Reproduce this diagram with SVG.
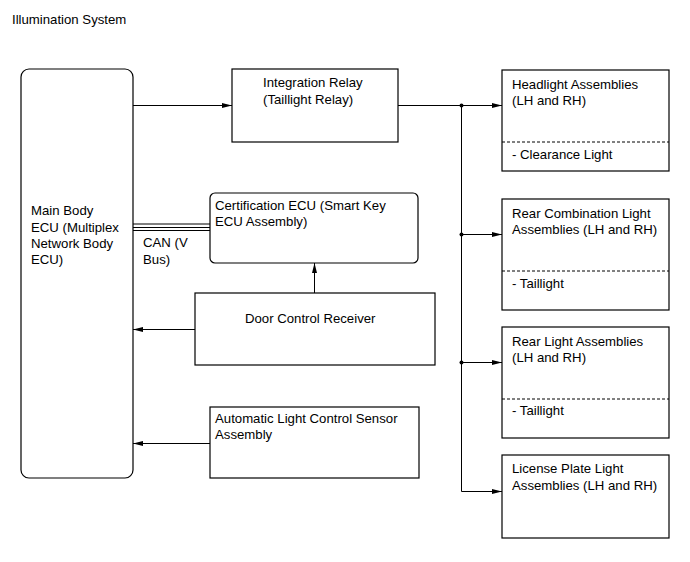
<svg xmlns="http://www.w3.org/2000/svg" width="690" height="562" viewBox="0 0 690 562">
<style>
text{font-family:"Liberation Sans",Arial,sans-serif;font-size:13.2px;fill:#000}
.box{fill:#fff;stroke:#000;stroke-width:1.2}
.dash{stroke:#000;stroke-width:1;stroke-dasharray:3,2}
.ln{stroke:#000;stroke-width:1;fill:none}
</style>
<defs>
<marker id="ah" markerWidth="10" markerHeight="6" refX="10" refY="3" orient="auto" markerUnits="userSpaceOnUse">
<path d="M0,0.5 L10,3 L0,5.5 Z" fill="#000"/>
</marker>
</defs>
<rect width="690" height="562" fill="#fff"/>
<text x="12" y="24">Illumination System</text>

<g id="main-ecu">
<rect class="box" x="21" y="69" width="112" height="409" rx="8"/>
<text x="31" y="215">Main Body</text>
<text x="31" y="232">ECU (Multiplex</text>
<text x="31" y="248">Network Body</text>
<text x="31" y="264">ECU)</text>
</g>

<g id="integration-relay">
<rect class="box" x="232" y="69" width="166" height="73"/>
<text x="263" y="87">Integration Relay</text>
<text x="263" y="104">(Taillight Relay)</text>
</g>

<g id="certification-ecu">
<rect class="box" x="210" y="193" width="208" height="70" rx="5"/>
<text x="215" y="210">Certification ECU (Smart Key</text>
<text x="215" y="226">ECU Assembly)</text>
</g>

<g id="door-control-receiver">
<rect class="box" x="195" y="293" width="240" height="72"/>
<text x="245" y="323">Door Control Receiver</text>
</g>

<g id="auto-light-sensor">
<rect class="box" x="210" y="407" width="209" height="71"/>
<text x="215" y="423">Automatic Light Control Sensor</text>
<text x="215" y="439">Assembly</text>
</g>

<g id="headlight">
<rect class="box" x="502" y="70" width="167" height="101"/>
<line class="dash" x1="502" y1="142" x2="669" y2="142"/>
<text x="512" y="89">Headlight Assemblies</text>
<text x="512" y="105">(LH and RH)</text>
<text x="512" y="159">- Clearance Light</text>
</g>

<g id="rear-combination">
<rect class="box" x="502" y="199" width="167" height="111"/>
<line class="dash" x1="502" y1="271" x2="669" y2="271"/>
<text x="512" y="218">Rear Combination Light</text>
<text x="512" y="234">Assemblies (LH and RH)</text>
<text x="512" y="288">- Taillight</text>
</g>

<g id="rear-light">
<rect class="box" x="502" y="327" width="167" height="111"/>
<line class="dash" x1="502" y1="399" x2="669" y2="399"/>
<text x="512" y="346">Rear Light Assemblies</text>
<text x="512" y="362">(LH and RH)</text>
<text x="512" y="415">- Taillight</text>
</g>

<g id="license-plate">
<rect class="box" x="502" y="455" width="167" height="83"/>
<text x="512" y="473">License Plate Light</text>
<text x="512" y="490">Assemblies (LH and RH)</text>
</g>

<g id="connectors">
<line class="ln" x1="133" y1="105.5" x2="232" y2="105.5" marker-end="url(#ah)"/>
<line class="ln" x1="398" y1="105.5" x2="502" y2="105.5" marker-end="url(#ah)"/>
<line class="ln" x1="461.5" y1="105.5" x2="461.5" y2="491.5"/>
<line class="ln" x1="461.5" y1="234.5" x2="502" y2="234.5" marker-end="url(#ah)"/>
<line class="ln" x1="461.5" y1="362.5" x2="502" y2="362.5" marker-end="url(#ah)"/>
<line class="ln" x1="461.5" y1="491.5" x2="502" y2="491.5" marker-end="url(#ah)"/>
<circle cx="461.5" cy="105.5" r="2" fill="#000"/>
<circle cx="461.5" cy="234.5" r="2" fill="#000"/>
<circle cx="461.5" cy="362.5" r="2" fill="#000"/>
<line class="ln" x1="133" y1="224" x2="210" y2="224" stroke-width="2"/>
<line class="ln" x1="133" y1="227.5" x2="210" y2="227.5"/>
<line class="ln" x1="133" y1="230.5" x2="210" y2="230.5" stroke-width="1.5"/>
<text x="143" y="247">CAN (V</text>
<text x="143" y="264">Bus)</text>
<line class="ln" x1="314.5" y1="293" x2="314.5" y2="263" marker-end="url(#ah)"/>
<line class="ln" x1="195" y1="329.5" x2="133" y2="329.5" marker-end="url(#ah)"/>
<line class="ln" x1="210" y1="443.5" x2="133" y2="443.5" marker-end="url(#ah)"/>
</g>
</svg>
